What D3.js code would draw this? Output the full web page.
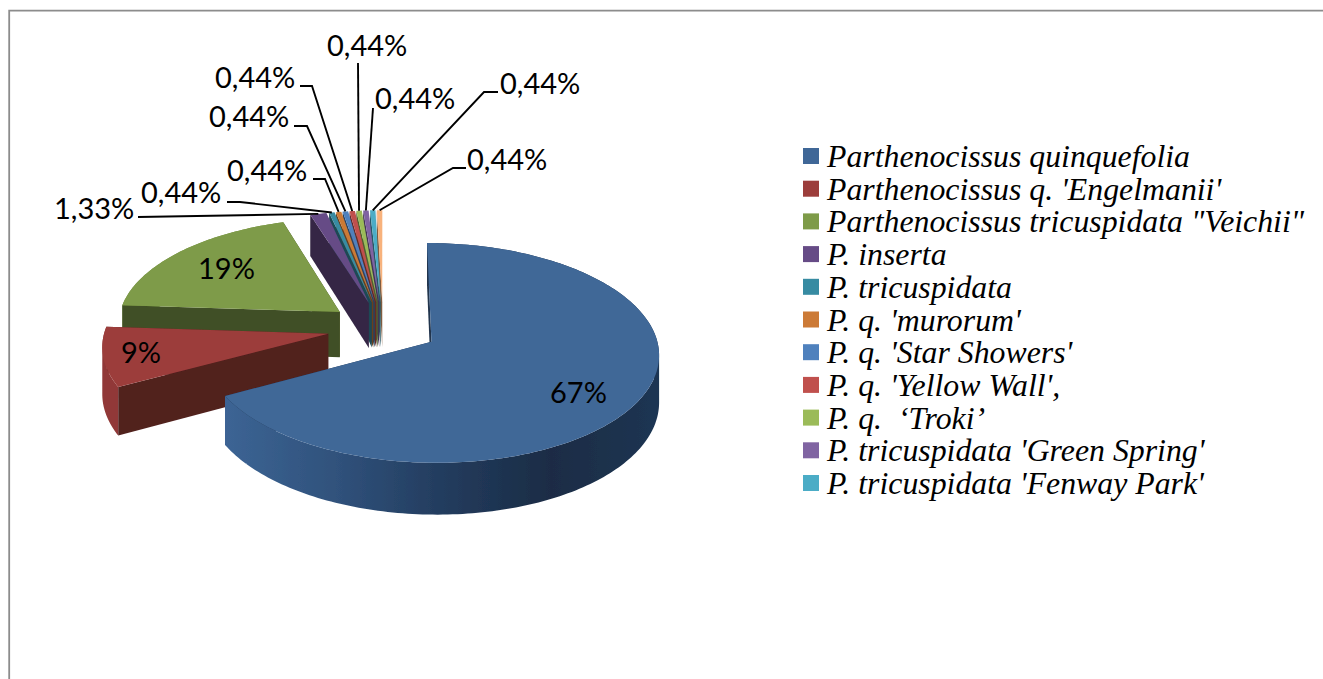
<!DOCTYPE html>
<html>
<head>
<meta charset="utf-8">
<script src="https://cdn.jsdelivr.net/npm/d3@7"></script>
<style>
	html, body { margin: 0; background: #fff; }
	svg { display: block; }
</style>
</head>
<body>
<div id="chart"></div>
<script>
var categories = [
	"Parthenocissus quinquefolia",
	"Parthenocissus q. 'Engelmanii'",
	"Parthenocissus tricuspidata \"Veichii\"",
	"P. inserta",
	"P. tricuspidata",
	"P. q. 'murorum'",
	"P. q. 'Star Showers'",
	"P. q. 'Yellow Wall',",
	"P. q.  ‘Troki’",
	"P. tricuspidata 'Green Spring'",
	"P. tricuspidata 'Fenway Park'"
];
// the pie has a 12th slice that the legend does not list
var values = [67.11, 8.89, 19.11, 1.33, 0.44, 0.44, 0.44, 0.44, 0.44, 0.44, 0.44, 0.44];
var valueLabels = ["67%", "9%", "19%", "1,33%", "0,44%", "0,44%", "0,44%", "0,44%", "0,44%", "0,44%", "0,44%", "0,44%"];
var sliceColors = ["#3f6797", "#9c3d3b", "#7e9b48", "#664b86", "#378ba2", "#cc7a36", "#4f81bd", "#c0504d", "#9bbb59", "#8064a2", "#4bacc6", "#f8b27c"];

// label baseline positions, same order as valueLabels
var labelX = [550, 121, 198, 54, 141, 227, 209, 215, 327, 375, 500, 467];
var labelY = [403, 363, 279, 219, 203, 181, 127, 88, 56, 109, 94, 170];
// leader lines: start next to the label, then optional elbow, then the slice
var leaderStart = [null, null, null, [138, 217], [227, 202], [313, 179], [294, 126], [300, 86], [358, 63], [373, 108], [498, 92], [466, 168]];
var leaderElbow = [null, null, null, null, [240, 202], [325, 179], [307, 126], [312, 86], null, null, [484, 92], [453, 168]];

var width = 1323,
	height = 679;
var explode = 0.25,
	perspective = 0.1,
	depth = 46;

// pie plane: x runs left to right, z runs back to front
var sx = d3.scaleLinear().domain([-1, 1]).range([383 - 223, 383 + 223]);
var sz = d3.scaleLinear().domain([-1, 1]).range([328 - 106, 328 + 106]);
var color = d3.scaleOrdinal().domain(d3.range(values.length)).range(sliceColors);

var svg = d3.select("#chart").append("svg")
	.attr("width", width)
	.attr("height", height);

var defs = svg.append("defs");
defs.append("filter")
	.attr("id", "soft")
	.attr("x", "-5%").attr("y", "-5%")
	.attr("width", "110%").attr("height", "110%")
	.append("feGaussianBlur")
	.attr("stdDeviation", 0.7);

var blueWall = defs.append("linearGradient")
	.attr("id", "blue-wall")
	.attr("gradientUnits", "userSpaceOnUse")
	.attr("x1", 226).attr("x2", 660)
	.attr("y1", 0).attr("y2", 0);
[[0, "#3c6494"], [0.25, "#30527c"], [0.5, "#233c5e"], [0.75, "#1a2c45"], [1, "#1d3553"]].forEach(function(s) {
	blueWall.append("stop").attr("offset", s[0]).attr("stop-color", s[1]);
});

// frame, cut off by the page on the right and at the bottom
svg.append("path")
	.attr("d", "M9.2," + height + "V10.7H" + width)
	.attr("fill", "none")
	.attr("stroke", "#8c8c8c")
	.attr("stroke-width", 1.8);

var slices = d3.pie().sort(null).value(function(d) { return d; })(values);
var line = d3.line();

function project(d, r, a, lift) {
	var mid = (d.startAngle + d.endAngle) / 2;
	var x = explode * Math.sin(mid) + r * Math.sin(a);
	var z = -explode * Math.cos(mid) - r * Math.cos(a);
	var s = 1 / (1 - perspective * z);
	return [sx(x * s), sz(z * s) + lift * s];
}

function outerArc(d, lift) {
	var steps = Math.max(2, Math.ceil((d.endAngle - d.startAngle) / 0.02));
	return d3.range(steps + 1).map(function(i) {
		return project(d, 1, d.startAngle + (d.endAngle - d.startAngle) * i / steps, lift);
	});
}

// one quad per arc step, all wound the same way, so the silhouette stays whole where the arc turns
function outerWall(d) {
	var upper = outerArc(d, 0),
		lower = outerArc(d, depth);
	return d3.range(upper.length - 1).map(function(i) {
		var quad = [upper[i], upper[i + 1], lower[i + 1], lower[i]];
		if (d3.polygonArea(quad) < 0) quad.reverse();
		return line(quad) + "Z";
	}).join("");
}

function radialWall(d, a) {
	return line([project(d, 0, a, 0), project(d, 1, a, 0), project(d, 1, a, depth), project(d, 0, a, depth)]) + "Z";
}

function topFace(d) {
	return line([project(d, 0, d.startAngle, 0)].concat(outerArc(d, 0))) + "Z";
}

function wallColor(d) {
	return d3.rgb(color(d.index)).darker(1.85).formatHex();
}

var pieGroup = svg.append("g").attr("filter", "url(#soft)");

// the fan of small slices is furthest back, walls under all its tops
var fan = slices.slice(3);
pieGroup.selectAll("path.fan-wall")
	.data(fan.slice().reverse())
	.enter().append("path")
	.attr("class", "fan-wall")
	.attr("d", function(d) { return radialWall(d, d.startAngle); })
	.attr("fill", wallColor);
pieGroup.selectAll("path.fan-top")
	.data(fan)
	.enter().append("path")
	.attr("class", "fan-top")
	.attr("d", topFace)
	.attr("fill", function(d) { return color(d.index); });

// then green, red, blue
[slices[2], slices[1], slices[0]].forEach(function(d) {
	var g = pieGroup.append("g");
	g.append("path").attr("d", radialWall(d, d.endAngle)).attr("fill", wallColor(d));
	g.append("path")
		.attr("d", outerWall(d))
		.attr("fill", d.index == 0 ? "url(#blue-wall)" : d3.rgb(color(d.index)).darker(0.2).formatHex());
	g.append("path").attr("d", radialWall(d, d.startAngle)).attr("fill", wallColor(d));
	g.append("path").attr("d", topFace(d)).attr("fill", color(d.index));
});

// leader lines
svg.append("g").selectAll("path")
	.data(fan)
	.enter().append("path")
	.attr("fill", "none")
	.attr("stroke", "#000")
	.attr("stroke-width", 1.9)
	.attr("d", function(d) {
		var pts = [leaderStart[d.index]];
		if (leaderElbow[d.index]) pts.push(leaderElbow[d.index]);
		pts.push(project(d, 1, (d.startAngle + d.endAngle) / 2, 0));
		return line(pts);
	});

// value labels
svg.append("g").selectAll("text")
	.data(valueLabels)
	.enter().append("text")
	.attr("x", function(d, i) { return labelX[i]; })
	.attr("y", function(d, i) { return labelY[i]; })
	.attr("font-family", "Lato, sans-serif")
	.attr("font-size", 29)
	.attr("fill", "#000")
	.text(function(d) { return d; });

// legend
var legendRow = d3.scalePoint().domain(categories).range([156, 483]);
var legend = svg.append("g").selectAll("g")
	.data(categories)
	.enter().append("g")
	.attr("transform", function(d) { return "translate(803," + legendRow(d) + ")"; });
legend.append("rect")
	.attr("y", -8)
	.attr("width", 16)
	.attr("height", 16)
	.attr("fill", function(d, i) { return color(i); });
legend.append("text")
	.attr("x", 24)
	.attr("y", 11)
	.style("white-space", "pre")
	.attr("font-family", "'Liberation Serif', serif")
	.attr("font-style", "italic")
	.attr("font-size", 31.8)
	.attr("fill", "#000")
	.text(function(d) { return d; });
</script>
</body>
</html>
